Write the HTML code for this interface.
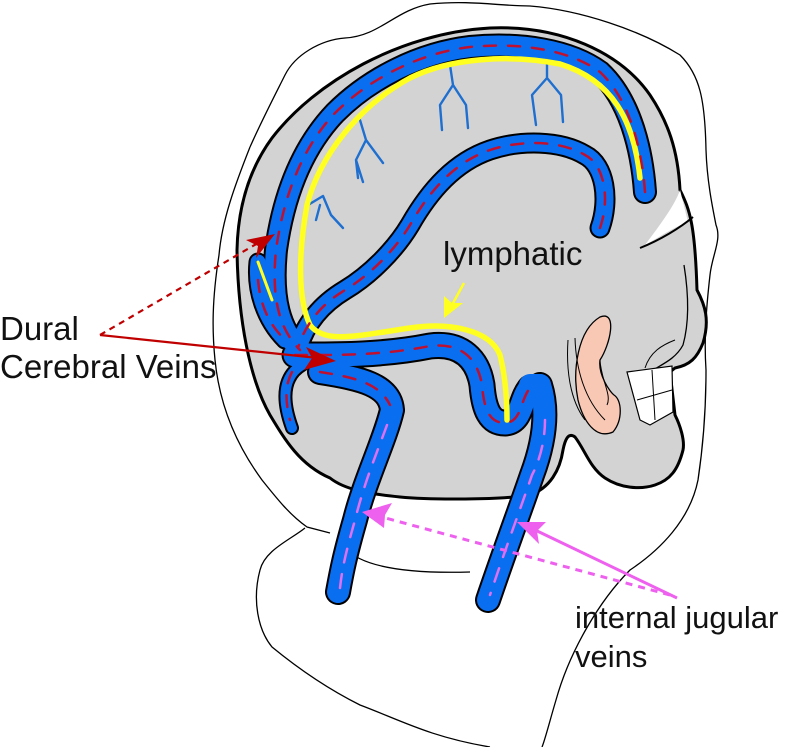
<!DOCTYPE html>
<html><head><meta charset="utf-8"><style>
html,body{margin:0;padding:0;background:#fff;width:800px;height:747px;overflow:hidden}
text{font-family:"Liberation Sans",sans-serif}
</style></head><body>
<svg width="800" height="747" viewBox="0 0 800 747" xmlns="http://www.w3.org/2000/svg">
<!-- outer head -->
<path d="M250,147 C262,120 275,95 285,75 C295,55 320,40 345,38 C380,36 395,10 430,4 C470,0 500,6 530,6 C580,10 640,30 680,55 C700,75 705,100 706,150 C707,180 712,205 716,225 C722,240 712,255 710,275 C706,310 704,340 706,370 C706,400 704,440 698,480 C690,520 660,550 630,570 C600,600 570,650 556,700 C550,720 545,740 542,747" fill="none" stroke="#000" stroke-width="1.3"/>
<path d="M250,147 C235,185 222,220 219,255 C212,300 212,330 215,360 C220,410 240,450 262,480 C278,500 290,515 307,527 L330,533" fill="none" stroke="#000" stroke-width="1.3"/>
<!-- collar/neck -->
<path d="M305,528 C290,540 265,550 260,570 C252,600 258,630 272,647 C300,670 330,690 360,705 C400,720 430,737 490,747" fill="none" stroke="#000" stroke-width="1.3"/>
<path d="M345,548 C360,565 400,574 470,572" fill="none" stroke="#000" stroke-width="1.3"/>
<!-- skull -->
<path d="M237,250 C238,205 250,168 272,138 C315,82 400,33 490,28 C560,25 620,52 650,95 C668,122 678,150 680,190 C690,210 695,225 697,290 C705,305 710,320 703,343 C697,358 690,365 675,368 L670,372 L675,415 C680,425 685,440 683,450 C678,470 670,480 655,485 C640,490 620,488 605,478 C590,468 585,450 575,437 C568,432 565,440 563,450 C560,470 550,488 530,495 C500,500 430,500 400,497 C370,494 345,490 330,478 C300,465 285,440 270,415 C250,380 238,320 237,250z" fill="#d3d3d3" stroke="#000" stroke-width="3"/>
<!-- white highlight & eye socket -->
<path d="M680,190 C675,205 660,225 645,245 C658,238 672,228 688,222z" fill="#fff"/>
<path d="M640,248 C660,240 680,228 693,217" fill="none" stroke="#000" stroke-width="2"/>
<path d="M684,265 C688,290 690,320 683,345 C675,360 660,365 650,372" fill="none" stroke="#000" stroke-width="1.3"/>
<!-- teeth -->
<path d="M627,372 L672,366 L673,412 L650,425 L640,420z" fill="#fff" stroke="#000" stroke-width="1.2"/>
<path d="M652,370 L655,420 M637,400 L672,390 M645,368 C650,352 662,345 675,340" fill="none" stroke="#000" stroke-width="1"/>
<!-- ear -->
<path d="M600,317 C618,310 610,345 600,360 C598,375 610,392 614,395 C622,400 623,420 613,432 C595,440 583,420 578,400 C572,370 578,330 600,317z" fill="#f8c8b4" stroke="#000" stroke-width="1.3"/>
<path d="M568,340 C566,370 570,400 585,420 M575,338 C576,370 585,400 605,420 M600,360 C601,380 612,395 607,405" fill="none" stroke="#000" stroke-width="1"/>
<g fill="none" stroke-linecap="round" stroke-linejoin="round">
<g stroke="#000">
<path d="M645,192 C642,150 630,100 600,72 C570,50 520,42 470,47 C420,53 370,78 335,113 C300,150 283,200 276,250 C271,300 280,330 300,350" stroke-width="24"/>
<path d="M600,228 C610,200 605,165 585,155 C560,140 520,140 490,150 C455,162 430,190 410,225 C395,250 370,275 345,290 C320,305 305,325 298,348" stroke-width="21"/>
<path d="M258,262 C255,290 265,320 285,340" stroke-width="19"/>
<path d="M302,365 C285,375 280,395 292,428" stroke-width="14"/>
<path d="M295,355 C330,355 380,356 430,346 C462,342 478,360 482,385 C484,410 490,423 505,423 C522,422 520,400 530,388" stroke-width="27"/>
<path d="M540,385 C548,410 545,440 532,475 C520,510 505,550 488,600" stroke-width="26"/>
<path d="M320,372 C360,378 390,385 392,410 C385,440 365,480 355,520 C345,555 342,570 338,592" stroke-width="26"/>
</g>
<g stroke="#0a6ef0">
<path d="M645,192 C642,150 630,100 600,72 C570,50 520,42 470,47 C420,53 370,78 335,113 C300,150 283,200 276,250 C271,300 280,330 300,350" stroke-width="20"/>
<path d="M600,228 C610,200 605,165 585,155 C560,140 520,140 490,150 C455,162 430,190 410,225 C395,250 370,275 345,290 C320,305 305,325 298,348" stroke-width="17"/>
<path d="M258,262 C255,290 265,320 285,340" stroke-width="15"/>
<path d="M302,365 C285,375 280,395 292,428" stroke-width="10"/>
<path d="M295,355 C330,355 380,356 430,346 C462,342 478,360 482,385 C484,410 490,423 505,423 C522,422 520,400 530,388" stroke-width="23"/>
<path d="M540,385 C548,410 545,440 532,475 C520,510 505,550 488,600" stroke-width="22"/>
<path d="M320,372 C360,378 390,385 392,410 C385,440 365,480 355,520 C345,555 342,570 338,592" stroke-width="22"/>
<path d="M530,385 L540,385" stroke-width="22"/>
</g>
<!-- small tributaries -->
<g stroke="#1e6fd0" stroke-width="2.4">
<path d="M360,120 L366,140 L356,160 L358,178 M366,140 L383,163 M356,160 L363,182"/>
<path d="M450,65 L453,85 L440,105 L442,130 M453,85 L466,105 L468,128"/>
<path d="M547,58 L547,78 L532,95 L536,125 M547,78 L561,95 L563,122"/>
<path d="M308,205 L323,196 L331,215 L343,228 M320,205 L316,220"/>
</g>
<!-- yellow lymphatic -->
<path d="M640,178 C634,120 612,80 560,64 C510,54 450,58 410,78 C360,105 320,155 307,205 C298,255 298,300 310,325 C325,345 360,335 410,328 C450,322 490,330 500,355 C505,375 507,395 507,420" stroke="#ffff20" stroke-width="5.5"/>
<path d="M258,262 L272,300" stroke="#ffff20" stroke-width="3"/>
<!-- red dashed centerlines -->
<g stroke="#c01030" stroke-width="2.5" stroke-dasharray="12,12">
<path d="M645,192 C642,150 630,100 600,72 C570,50 520,42 470,47 C420,53 370,78 335,113 C300,150 283,200 276,250 C271,300 280,330 300,350"/>
<path d="M600,228 C610,200 605,165 585,155 C560,140 520,140 490,150 C455,162 430,190 410,225 C395,250 370,275 345,290 C320,305 305,325 298,348"/>
<path d="M258,280 C260,300 265,320 285,340"/>
<path d="M295,355 C330,355 380,356 430,346 C462,342 478,360 482,385 C484,410 490,423 505,423 C522,422 520,400 530,388"/>
<path d="M320,372 C360,378 380,385 390,405"/>
<path d="M292,372 C285,385 285,400 290,420"/>
</g>
<g stroke="#e070f0" stroke-width="2.5" stroke-dasharray="14,12">
<path d="M545,420 C545,440 540,460 532,475 C520,510 505,550 490,595"/>
<path d="M387,425 C378,450 365,480 355,520 C345,555 342,570 340,588"/>
</g>
</g>
<!-- red arrows -->
<g stroke="#c00000" stroke-width="2.2" fill="none">
<path d="M100,335 L258,243" stroke-dasharray="6,5"/>
<path d="M100,335 L318,358"/>
</g>
<path d="M275,234 L246,240 L258,246 L256,258z" fill="#c00000"/>
<path d="M336,361 L306,347 L312,358 L304,370z" fill="#c00000"/>
<!-- yellow arrow -->
<path d="M464,283 L452,305" stroke="#ffff20" stroke-width="2.5"/>
<path d="M444,318 L444,296 L452,303 L463,303z" fill="#ffff20"/>
<!-- pink arrows -->
<path d="M670,595 L378,516" stroke="#ee60ee" stroke-width="3" stroke-dasharray="7,6" fill="none"/>
<path d="M362,512 L392,503 L385,515 L384,528z" fill="#ee60ee"/>
<path d="M677,598 L533,529" stroke="#ee60ee" stroke-width="3" fill="none"/>
<path d="M517,522 L546,522 L537,531 L539,544z" fill="#ee60ee"/>
<!-- labels -->
<text x="0" y="340" font-size="33" fill="#111">Dural</text>
<text x="0" y="378" font-size="33" fill="#111">Cerebral Veins</text>
<text x="443" y="265" font-size="33" fill="#111">lymphatic</text>
<text x="575" y="628" font-size="31" fill="#111">internal jugular</text>
<text x="575" y="667" font-size="31" fill="#111">veins</text>
</svg>
</body></html>
